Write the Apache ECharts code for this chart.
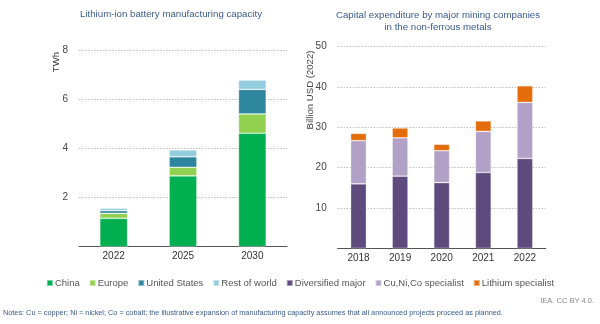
<!DOCTYPE html>
<html><head><meta charset="utf-8">
<script src="https://cdn.jsdelivr.net/npm/echarts@6/dist/echarts.min.js"></script>
<style>html,body{margin:0;padding:0;background:#fff}#c{width:600px;height:324px}</style>
</head><body><div id="c"></div>
<script>
const capYears = ['2022', '2025', '2030'];
const china = [1.16, 2.89, 4.63];
const europe = [0.20, 0.35, 0.79];
const unitedStates = [0.11, 0.43, 1.00];
const restOfWorld = [0.10, 0.28, 0.38];

const capexYears = ['2018', '2019', '2020', '2021', '2022'];
const diversified = [16.0, 17.9, 16.3, 18.8, 22.3];
const cuNiCo = [10.7, 9.5, 7.9, 10.2, 13.9];
const lithium = [1.8, 2.45, 1.6, 2.6, 4.1];

const leftTicks = ['2', '4', '6', '8'];
const rightTicks = ['10', '20', '30', '40', '50'];

const FONT = 'Liberation Sans, Arial, sans-serif';
const chart = echarts.init(document.getElementById('c'));
const border = {borderColor: 'rgba(255,255,255,0.45)', borderWidth: 0.7};
function bar(name, data, color, ax) {
  return {name, type: 'bar', stack: 's' + ax, xAxisIndex: ax, yAxisIndex: ax, data,
    barWidth: ax === 0 ? '40%' : '38%', itemStyle: Object.assign({color}, border)};
}
const valueAxis = (i, max, interval, ticks) => ({
  type: 'value', gridIndex: i, min: 0, max, interval,
  axisLine: {show: false}, axisTick: {show: false},
  axisLabel: {color: '#444', fontSize: 10, fontFamily: FONT, margin: 11,
    formatter: v => ticks.includes(String(v)) ? String(v) : ''},
  splitLine: {lineStyle: {color: '#bdbdbd', type: [1.5, 1.5], width: 1}}
});
const catAxis = (i, data) => ({
  type: 'category', gridIndex: i, data,
  axisLine: {lineStyle: {color: '#555', width: 1.2}}, axisTick: {show: false},
  axisLabel: {color: '#333', fontSize: 10, fontFamily: FONT, margin: 5}
});
chart.setOption({
  animation: false,
  textStyle: {fontFamily: FONT},
  grid: [
    {left: 79, right: 313, top: 50.7, bottom: 77.3},
    {left: 337.7, right: 54.3, top: 46.7, bottom: 75.7}
  ],
  xAxis: [catAxis(0, capYears), catAxis(1, capexYears)],
  yAxis: [valueAxis(0, 8, 2, leftTicks), valueAxis(1, 50, 10, rightTicks)],
  legend: {
    left: 'center', top: 273, itemWidth: 6, itemHeight: 6, itemGap: 9,
    icon: 'rect', textStyle: {color: '#555', fontSize: 9.5, fontFamily: FONT, padding: [0, 0, 0, -3]}
  },
  series: [
    bar('China', china, '#00b050', 0),
    bar('Europe', europe, '#92d050', 0),
    bar('United States', unitedStates, '#2e869e', 0),
    bar('Rest of world', restOfWorld, '#93cddd', 0),
    bar('Diversified major', diversified, '#5f4a7d', 1),
    bar('Cu,Ni,Co specialist', cuNiCo, '#b2a1c7', 1),
    bar('Lithium specialist', lithium, '#e46c0a', 1)
  ],
  graphic: [
    {type: 'text', left: 80, top: 9, style: {text: 'Lithium-ion battery manufacturing capacity', fill: '#3a5a8c', font: '9.7px ' + FONT}},
    {type: 'text', x: 438, y: 9, style: {text: 'Capital expenditure by major mining companies\nin the non-ferrous metals', fill: '#3a5a8c', font: '9.7px ' + FONT, align: 'center', lineHeight: 12}},
    {type: 'text', x: 56, y: 62, rotation: Math.PI / 2, style: {text: 'TWh', fill: '#333', font: '9.6px ' + FONT, align: 'center', verticalAlign: 'middle'}},
    {type: 'text', x: 310, y: 90, rotation: Math.PI / 2, style: {text: 'Billion USD (2022)', fill: '#444', font: '9.6px ' + FONT, align: 'center', verticalAlign: 'middle'}},
    {type: 'text', right: 6, top: 297, style: {text: 'IEA. CC BY 4.0.', fill: '#888', font: '7.5px ' + FONT}},
    {type: 'text', left: 3, top: 309, style: {text: 'Notes: Cu = copper; Ni = nickel; Co = cobalt; the illustrative expansion of manufacturing capacity assumes that all announced projects proceed as planned.', fill: '#3a5a8c', font: '7.3px ' + FONT}}
  ]
});
</script></body></html>
